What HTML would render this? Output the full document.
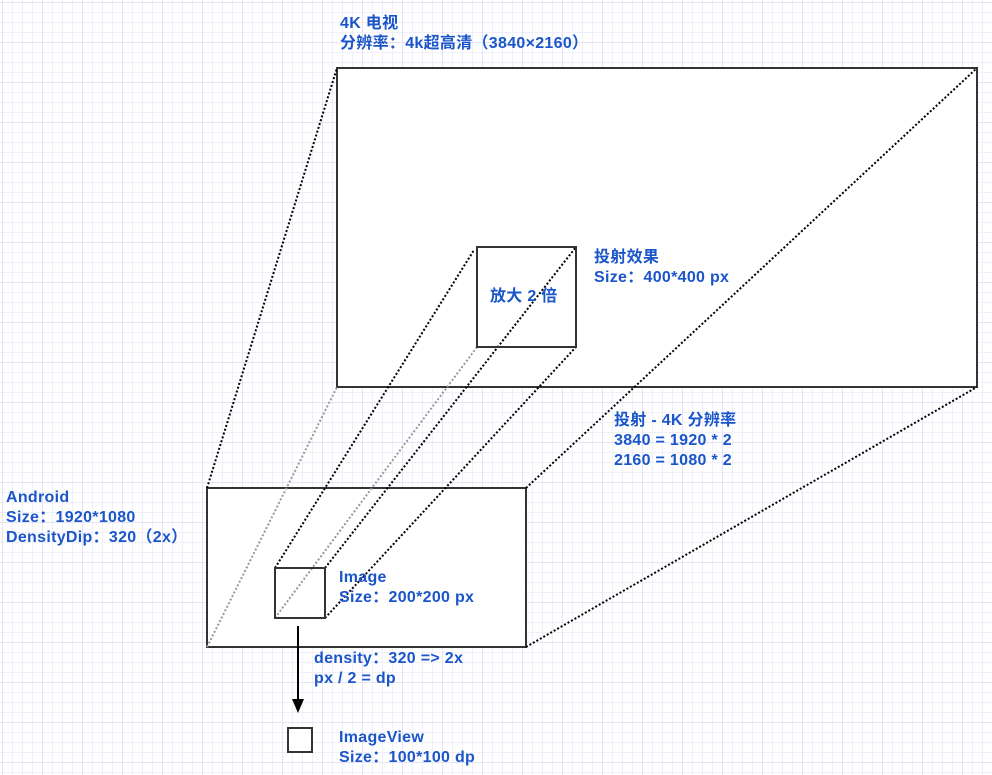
<!DOCTYPE html>
<html><head><meta charset="utf-8"><style>
html,body{margin:0;padding:0}
body{width:992px;height:775px;overflow:hidden;background-color:#fff;
background-image:linear-gradient(#e4e4f6 1px,transparent 1px),linear-gradient(90deg,#e4e4f6 1px,transparent 1px),linear-gradient(#f0f0fa 1px,transparent 1px),linear-gradient(90deg,#f0f0fa 1px,transparent 1px);
background-size:40px 40px,40px 40px,10px 10px,10px 10px;background-position:2px 2px;
font-family:"Liberation Sans","Noto Sans CJK SC",sans-serif;position:relative}
.t{position:absolute;color:#1a55c9;font-weight:bold;font-size:16px;line-height:20px;letter-spacing:0.3px;white-space:nowrap}
svg{position:absolute;left:0;top:0}
</style></head><body>
<svg width="992" height="775">
<g fill="#fff" stroke="#333" stroke-width="2">
<rect x="337" y="68" width="640" height="319"/>
<rect x="207" y="488" width="319" height="159"/>
</g>
<g fill="none" stroke="#000" stroke-width="2" stroke-dasharray="2 2">
<line x1="207" y1="488" x2="337" y2="68"/>
<line x1="526" y1="488" x2="977" y2="68"/>
<line x1="526" y1="647" x2="977" y2="387"/>
<line x1="275" y1="568" x2="474" y2="250"/>
<line x1="325" y1="568" x2="576" y2="247"/>
<line x1="325" y1="618" x2="576" y2="347"/>
</g>
<g fill="none" stroke="#999" stroke-width="2" stroke-dasharray="2 2">
<line x1="207" y1="647" x2="337" y2="387"/>
<line x1="275" y1="618" x2="477" y2="347"/>
</g>
<g fill="none" stroke="#333" stroke-width="2">
<rect x="477" y="247" width="99" height="100"/>
<rect x="275" y="568" width="50" height="50"/>
<rect x="288" y="728" width="24" height="24" fill="#fff"/>
</g>
<line x1="298" y1="626" x2="298" y2="700" stroke="#000" stroke-width="2"/>
<polygon points="292,699 304,699 298,713" fill="#000"/>
</svg>
<div class="t" style="left:340px;top:14px">4K 电视<br>分辨率：4k超高清（3840×2160）</div>
<div class="t" style="left:490px;top:287px">放大 2 倍</div>
<div class="t" style="left:594px;top:248px">投射效果<br>Size：400*400 px</div>
<div class="t" style="left:614px;top:411px">投射 - 4K 分辨率<br>3840 = 1920 * 2<br>2160 = 1080 * 2</div>
<div class="t" style="left:6px;top:488px">Android<br>Size：1920*1080<br>DensityDip：320（2x）</div>
<div class="t" style="left:339px;top:568px">Image<br>Size：200*200 px</div>
<div class="t" style="left:314px;top:649px">density：320 =&gt; 2x<br>px / 2 = dp</div>
<div class="t" style="left:339px;top:728px">ImageView<br>Size：100*100 dp</div>
</body></html>
